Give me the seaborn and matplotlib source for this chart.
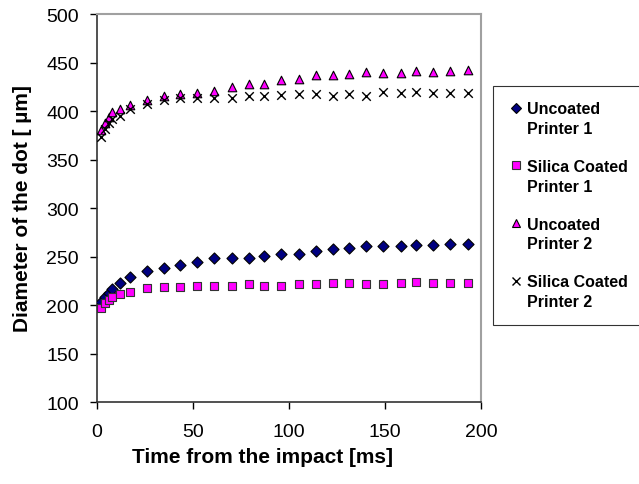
import matplotlib
matplotlib.use("Agg")
import matplotlib.pyplot as plt
import seaborn as sns
import pandas as pd
from matplotlib.lines import Line2D

# Data
time_ms = [2, 4, 6, 8, 12, 17, 26, 35, 43, 52, 61, 70, 79, 87, 96, 105,
           114, 123, 131, 140, 149, 158, 166, 175, 184, 193]
uncoated_p1 = [203, 208, 212, 217, 222.5, 228.5, 235, 238, 241, 244, 248, 248,
               249, 251, 253, 253, 256, 257.5, 259, 260.5, 260.5, 260.5, 261.5,
               261.5, 262.5, 262.5]
silica_p1 = [197, 202, 205, 208, 211, 213, 218, 219, 218.5, 219.5, 219.5, 220,
             221.5, 220, 220, 221.5, 221.5, 222.5, 222.5, 222, 221.5, 222.5,
             224, 222.5, 222.5, 222.5]
uncoated_p2 = [380, 388, 394, 399, 402, 406, 411, 415, 417.5, 418.5, 421, 424.5,
               428, 428, 432, 433.5, 437, 437, 438, 440, 439.5, 439.5, 441,
               440, 441, 442.5]
silica_p2 = [373, 381, 388, 392, 395, 402.5, 407, 411.5, 413, 413, 413, 413,
             415.8, 415.8, 416.5, 417.5, 417.5, 415.8, 417.5, 415.8, 420, 419,
             420, 419, 419, 419]

names = ["Uncoated Printer 1", "Silica Coated Printer 1",
         "Uncoated Printer 2", "Silica Coated Printer 2"]
series = [uncoated_p1, silica_p1, uncoated_p2, silica_p2]

df = pd.DataFrame({
    "time": time_ms * 4,
    "diameter": sum(series, []),
    "series": [n for n in names for _ in time_ms],
})

sns.set_style("white")
plt.rcParams["font.family"] = ["Liberation Sans", "DejaVu Sans"]
plt.rcParams["text.color"] = "black"
plt.rcParams["axes.labelcolor"] = "black"

fig = plt.figure(figsize=(6.39, 4.85), dpi=100)
ax = fig.add_axes([0.152, 0.169, 0.601, 0.8])

# marker style per series (filled and line-art markers drawn separately)
styles = {
    names[0]: dict(marker="D", color="#000080", edgecolor="black", s=32, linewidth=0.8),
    names[1]: dict(marker="s", color="#FF00FF", edgecolor="#333333", s=40, linewidth=0.8),
    names[2]: dict(marker="^", color="#FF00FF", edgecolor="black", s=38, linewidth=0.8),
    names[3]: dict(marker="x", color="black", s=38, linewidth=1.0),
}
for n in names:
    sub = df[df["series"] == n]
    sns.scatterplot(data=sub, x="time", y="diameter", ax=ax, legend=False,
                    zorder=3, **styles[n])

ax.set_xlim(0, 200)
ax.set_ylim(100, 500)
ax.set_xticks(range(0, 201, 50))
ax.set_yticks(range(100, 501, 50))
ax.tick_params(axis="both", direction="out", length=5, width=1, colors="black",
               labelsize=14, left=True, bottom=True)
ax.tick_params(axis="y", pad=8)
ax.tick_params(axis="x", pad=10)

for side in ["left", "bottom"]:
    ax.spines[side].set_color("#333333")
    ax.spines[side].set_linewidth(1.2)
for side in ["right", "top"]:
    ax.spines[side].set_color("#a0a0a0")
    ax.spines[side].set_linewidth(1.5)

ax.set_xlabel("Time from the impact [ms]", fontsize=15, fontweight="bold", color="black")
ax.set_ylabel("Diameter of the dot [ \u00b5m]", fontsize=15, fontweight="bold", color="black")
ax.xaxis.set_label_coords(0.43, -0.115)
ax.yaxis.set_label_coords(-0.17, 0.5)

# legend: marker sits next to the first line of each two-line entry
blank = Line2D([], [], linestyle="none")
marks = [
    Line2D([], [], linestyle="none", marker="D", markersize=5, markerfacecolor="#000080",
           markeredgecolor="black", markeredgewidth=0.8),
    Line2D([], [], linestyle="none", marker="s", markersize=5.5, markerfacecolor="#FF00FF",
           markeredgecolor="#333333", markeredgewidth=0.8),
    Line2D([], [], linestyle="none", marker="^", markersize=5.5, markerfacecolor="#FF00FF",
           markeredgecolor="black", markeredgewidth=0.8),
    Line2D([], [], linestyle="none", marker="x", markersize=5.5, color="black",
           markeredgewidth=1.0),
]
leg_handles, leg_labels, spacers = [], [], []
for i, (h, n) in enumerate(zip(marks, names)):
    first, second = n.rsplit(" ", 2)[0], " ".join(n.rsplit(" ", 2)[1:])
    leg_handles += [h, blank]
    leg_labels += [first, second]
    if i < len(names) - 1:
        spacers.append(len(leg_labels))
        leg_handles.append(blank)
        leg_labels.append(" ")

leg = fig.legend(leg_handles, leg_labels, loc="lower left", bbox_to_anchor=(0.772, 0.328),
                 frameon=True, fancybox=False, prop={"size": 11.5, "weight": "bold"},
                 handlelength=0.8, handletextpad=0.3, labelspacing=0.3,
                 borderpad=1.0, borderaxespad=0)
for k in spacers:
    leg.get_texts()[k].set_fontsize(6)
for t in leg.get_texts():
    t.set_color("black")
leg.get_frame().set_edgecolor("black")
leg.get_frame().set_linewidth(0.8)

fig.savefig("out.png", dpi=100)
